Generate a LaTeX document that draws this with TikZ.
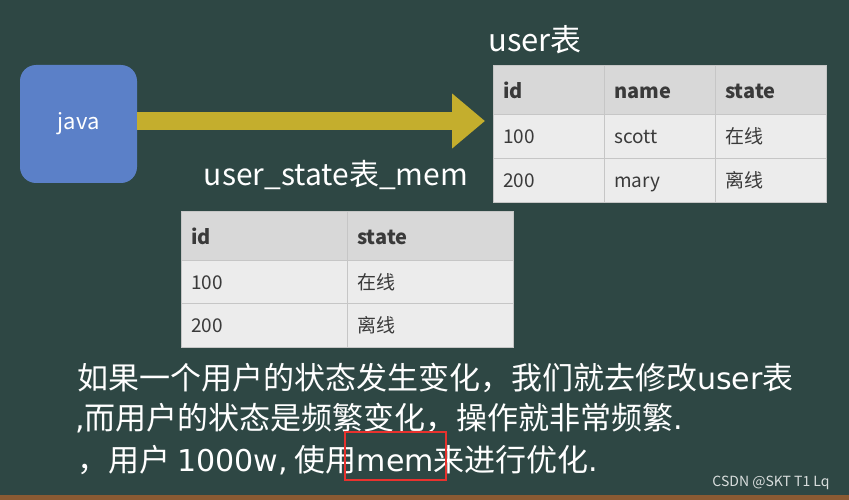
\documentclass[tikz,border=0pt]{standalone}
\usepackage{fontspec}
\setmainfont{Noto Sans CJK SC}
\newfontfamily\lat[Scale=0.97]{DejaVu Sans}
\usetikzlibrary{arrows.meta}
\definecolor{board}{HTML}{2E4744}
\definecolor{frame}{HTML}{8A5A33}
\definecolor{javablue}{HTML}{5B80C8}
\definecolor{arrowgold}{HTML}{C4AE2D}
\definecolor{headfill}{HTML}{D8D8D8}
\definecolor{bodyfill}{HTML}{ECECEC}
\definecolor{cellline}{HTML}{C6C6C6}
\definecolor{celltext}{HTML}{3A3A3A}
\definecolor{markred}{HTML}{E8322E}
\def\ut{91pt}
\def\mt{146pt}

\begin{document}
\begin{tikzpicture}[x=1pt, y=-1pt,
    hcell/.style={draw=cellline, fill=headfill, text=celltext, anchor=north west,
      font=\fontsize{20}{24}\selectfont\bfseries, minimum height=49pt, inner xsep=10pt, align=left,
      text height=19pt, text depth=2pt},
    bcell/.style={draw=cellline, fill=bodyfill, text=celltext, anchor=north west,
      font=\fontsize{19}{23}\selectfont, minimum height=44pt, inner xsep=10pt, align=left,
      text height=17pt, text depth=2.4pt},
    title/.style={text=white, font=\fontsize{30}{34}\selectfont},
    note/.style={text=white, anchor=west, inner sep=0pt, font=\fontsize{31}{35}\selectfont}]
    \fill[board] (0,0) rectangle (849,500);
    \fill[frame] (0,495) rectangle (849,500);

    \node[fill=javablue, rounded corners=16pt, minimum width=117pt, minimum height=118pt,
      text=white, font=\fontsize{22}{26}\selectfont] (java) at (78.5,124) {java};
    \coordinate (tip) at (485,121);
    \draw[arrowgold, line width=18pt, -{Triangle[length=33pt, width=53pt]}] (java.east |- tip) -- (tip);

    \node[title, font=\fontsize{31}{35}\selectfont] (utitle) at (535,40) {user表};
    \node[hcell, text width=\ut] (u11) at (493,65) {id};
    \node[hcell, text width=\ut] (u12) at (604,65) {name};
    \node[hcell, text width=\ut] (u13) at (715,65) {state};
    \node[bcell, text width=\ut] (u21) at (493,114) {100};
    \node[bcell, text width=\ut] (u22) at (604,114) {scott};
    \node[bcell, text width=\ut] (u23) at (715,114) {在线};
    \node[bcell, text width=\ut] (u31) at (493,158) {200};
    \node[bcell, text width=\ut] (u32) at (604,158) {mary};
    \node[bcell, text width=\ut] (u33) at (715,158) {离线};

    \node[title] (mtitle) at (336,175) {user\_state表\_mem};
    \node[hcell, text width=\mt] (m11) at (181,211) {id};
    \node[hcell, text width=\mt] (m12) at (347,211) {state};
    \node[bcell, text width=\mt, minimum height=43pt] (m21) at (181,260) {100};
    \node[bcell, text width=\mt, minimum height=43pt] (m22) at (347,260) {在线};
    \node[bcell, text width=\mt] (m31) at (181,303) {200};
    \node[bcell, text width=\mt] (m32) at (347,303) {离线};

    \node[note] (line1) at (77,378) {如果一个用户的状态发生变化，我们就去修改{\lat user}表};
    \node[note] (line2) at (75,418) {{\lat ,}而用户的状态是频繁变化，操作就非常频繁{\lat .}};
    \node[note] (line3) at (77,460) {，用户 {\lat 1000w,} 使用{\lat mem}来进行优化{\lat .}};
    \node[draw=markred, line width=2pt, minimum width=101pt, minimum height=48pt] (mark) at (395.5,456) {};

    \node[text=white!82!board, font=\fontsize{14}{16}\selectfont] (mark2) at (771,483) {CSDN @SKT T1 Lq};
\end{tikzpicture}
\end{document}
